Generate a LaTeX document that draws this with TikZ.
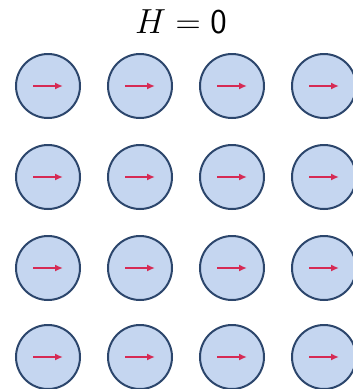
\documentclass[tikz,border=0pt]{standalone}
\usetikzlibrary{arrows.meta}
\usepackage{xcolor}
\definecolor{dotblue}{RGB}{197,214,240}
\definecolor{rimblue}{RGB}{44,70,108}
\definecolor{spinred}{RGB}{214,42,84}
\tikzset{
site/.style={draw=rimblue,fill=dotblue,circle,line width=2pt,minimum size=64pt,inner sep=0pt},
spin/.style={-{Latex[length=8pt,width=7pt]},line width=1.6pt,spinred}
}
\begin{document}
\begin{tikzpicture}[x=1pt,y=-1pt]
\useasboundingbox (0,0) rectangle (353,389);
\node[font=\fontsize{24.88}{28}\selectfont,scale=1.4] (title) at (181,22) {$H = \mathsf{0}$};
\foreach \r/\yy in {1/86,2/177,3/268,4/357}{
  \foreach \c/\xx in {1/48,2/140,3/232,4/324}{
    \node[site] (c-\r-\c) at (\xx,\yy) {};
    \draw[spin] ([xshift=-15pt]c-\r-\c.center) -- ([xshift=15pt]c-\r-\c.center);
  }
}
\end{tikzpicture}
\end{document}
